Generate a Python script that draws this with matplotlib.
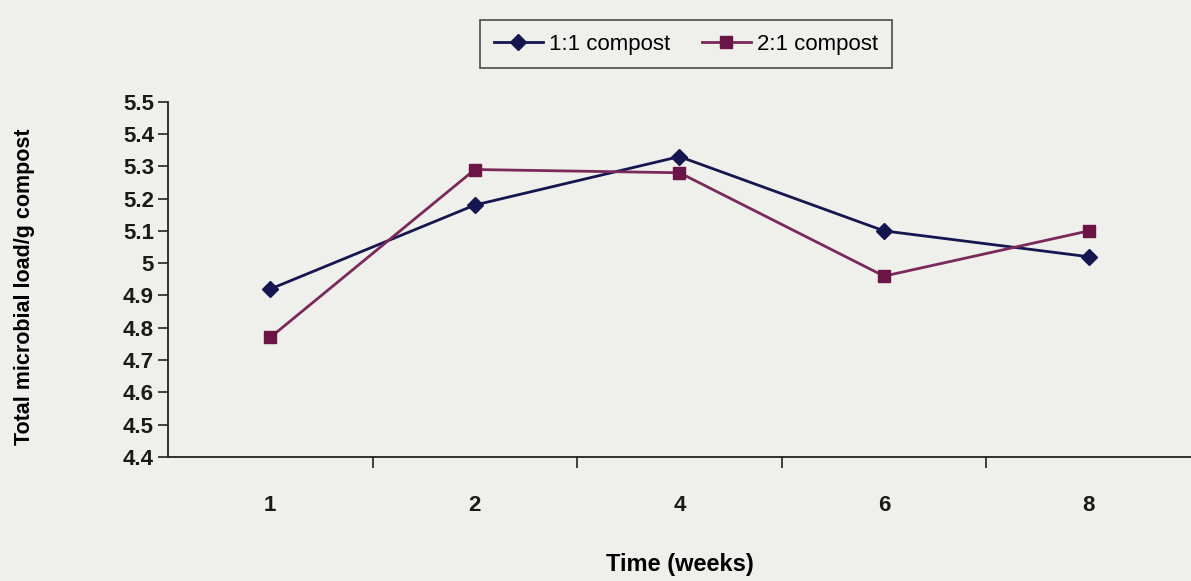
import numpy as np
from matplotlib import pyplot as plt

plt.rcParams['font.family'] = ['Liberation Sans', 'DejaVu Sans']

# data
weeks = ['1', '2', '4', '6', '8']
compost_1_1 = [4.92, 5.18, 5.33, 5.10, 5.02]
compost_2_1 = [4.77, 5.29, 5.28, 4.96, 5.10]
y_ticks = [4.4, 4.5, 4.6, 4.7, 4.8, 4.9, 5.0, 5.1, 5.2, 5.3, 5.4, 5.5]
y_tick_labels = ['4.4', '4.5', '4.6', '4.7', '4.8', '4.9', '5', '5.1', '5.2', '5.3', '5.4', '5.5']

bg = '#efefeb'
fig = plt.figure(figsize=(11.91, 5.81), dpi=100, facecolor=bg)
ax = fig.add_axes([0.141, 0.2134, 0.859, 0.6116])
ax.set_facecolor(bg)

x = np.arange(len(weeks))
ax.plot(x, compost_1_1, color='#15154f', marker='D', markersize=8,
        linewidth=2, label='1:1 compost')
ax.plot(x, compost_2_1, color='#7a2a5a', marker='s', markersize=9,
        markerfacecolor='#6a1545', markeredgecolor='#6a1545',
        linewidth=2, label='2:1 compost')

ax.set_xlim(-0.5, len(weeks) - 0.5)
ax.set_ylim(4.4, 5.5)

# category labels in the middle, tick marks on the borders
ax.set_xticks(x)
ax.set_xticklabels(weeks, fontsize=16, fontweight='bold', color='#1a1a1a')
ax.set_xticks(np.arange(0.5, len(weeks) - 0.5), minor=True)
ax.tick_params(axis='x', which='major', length=0, pad=27)
ax.tick_params(axis='x', which='minor', length=8, width=1.2, color='#222222')

ax.set_yticks(y_ticks)
ax.set_yticklabels(y_tick_labels, fontsize=16, fontweight='bold', color='#1a1a1a')
ax.tick_params(axis='y', length=7, width=1.2, color='#222222', pad=3)

for side in ['top', 'right']:
    ax.spines[side].set_visible(False)
for side in ['left', 'bottom']:
    ax.spines[side].set_linewidth(1.3)
    ax.spines[side].set_color('#222222')

ax.set_xlabel('Time (weeks)', fontsize=17, fontweight='bold')
ax.xaxis.set_label_coords(0.5, -0.27)
ax.set_ylabel('Total microbial load/g compost', fontsize=15.5, fontweight='bold')
ax.yaxis.set_label_coords(-0.13, 0.48)

leg = fig.legend(loc='center', bbox_to_anchor=(0.576, 0.924), ncol=2,
                 fontsize=16, frameon=True, fancybox=False, handlelength=2.2,
                 handletextpad=0.3, columnspacing=1.4, borderpad=0.6)
leg.get_frame().set_edgecolor('#222222')
leg.get_frame().set_linewidth(1.2)
leg.get_frame().set_facecolor(bg)

plt.savefig('out.png', dpi=100, facecolor=bg)
